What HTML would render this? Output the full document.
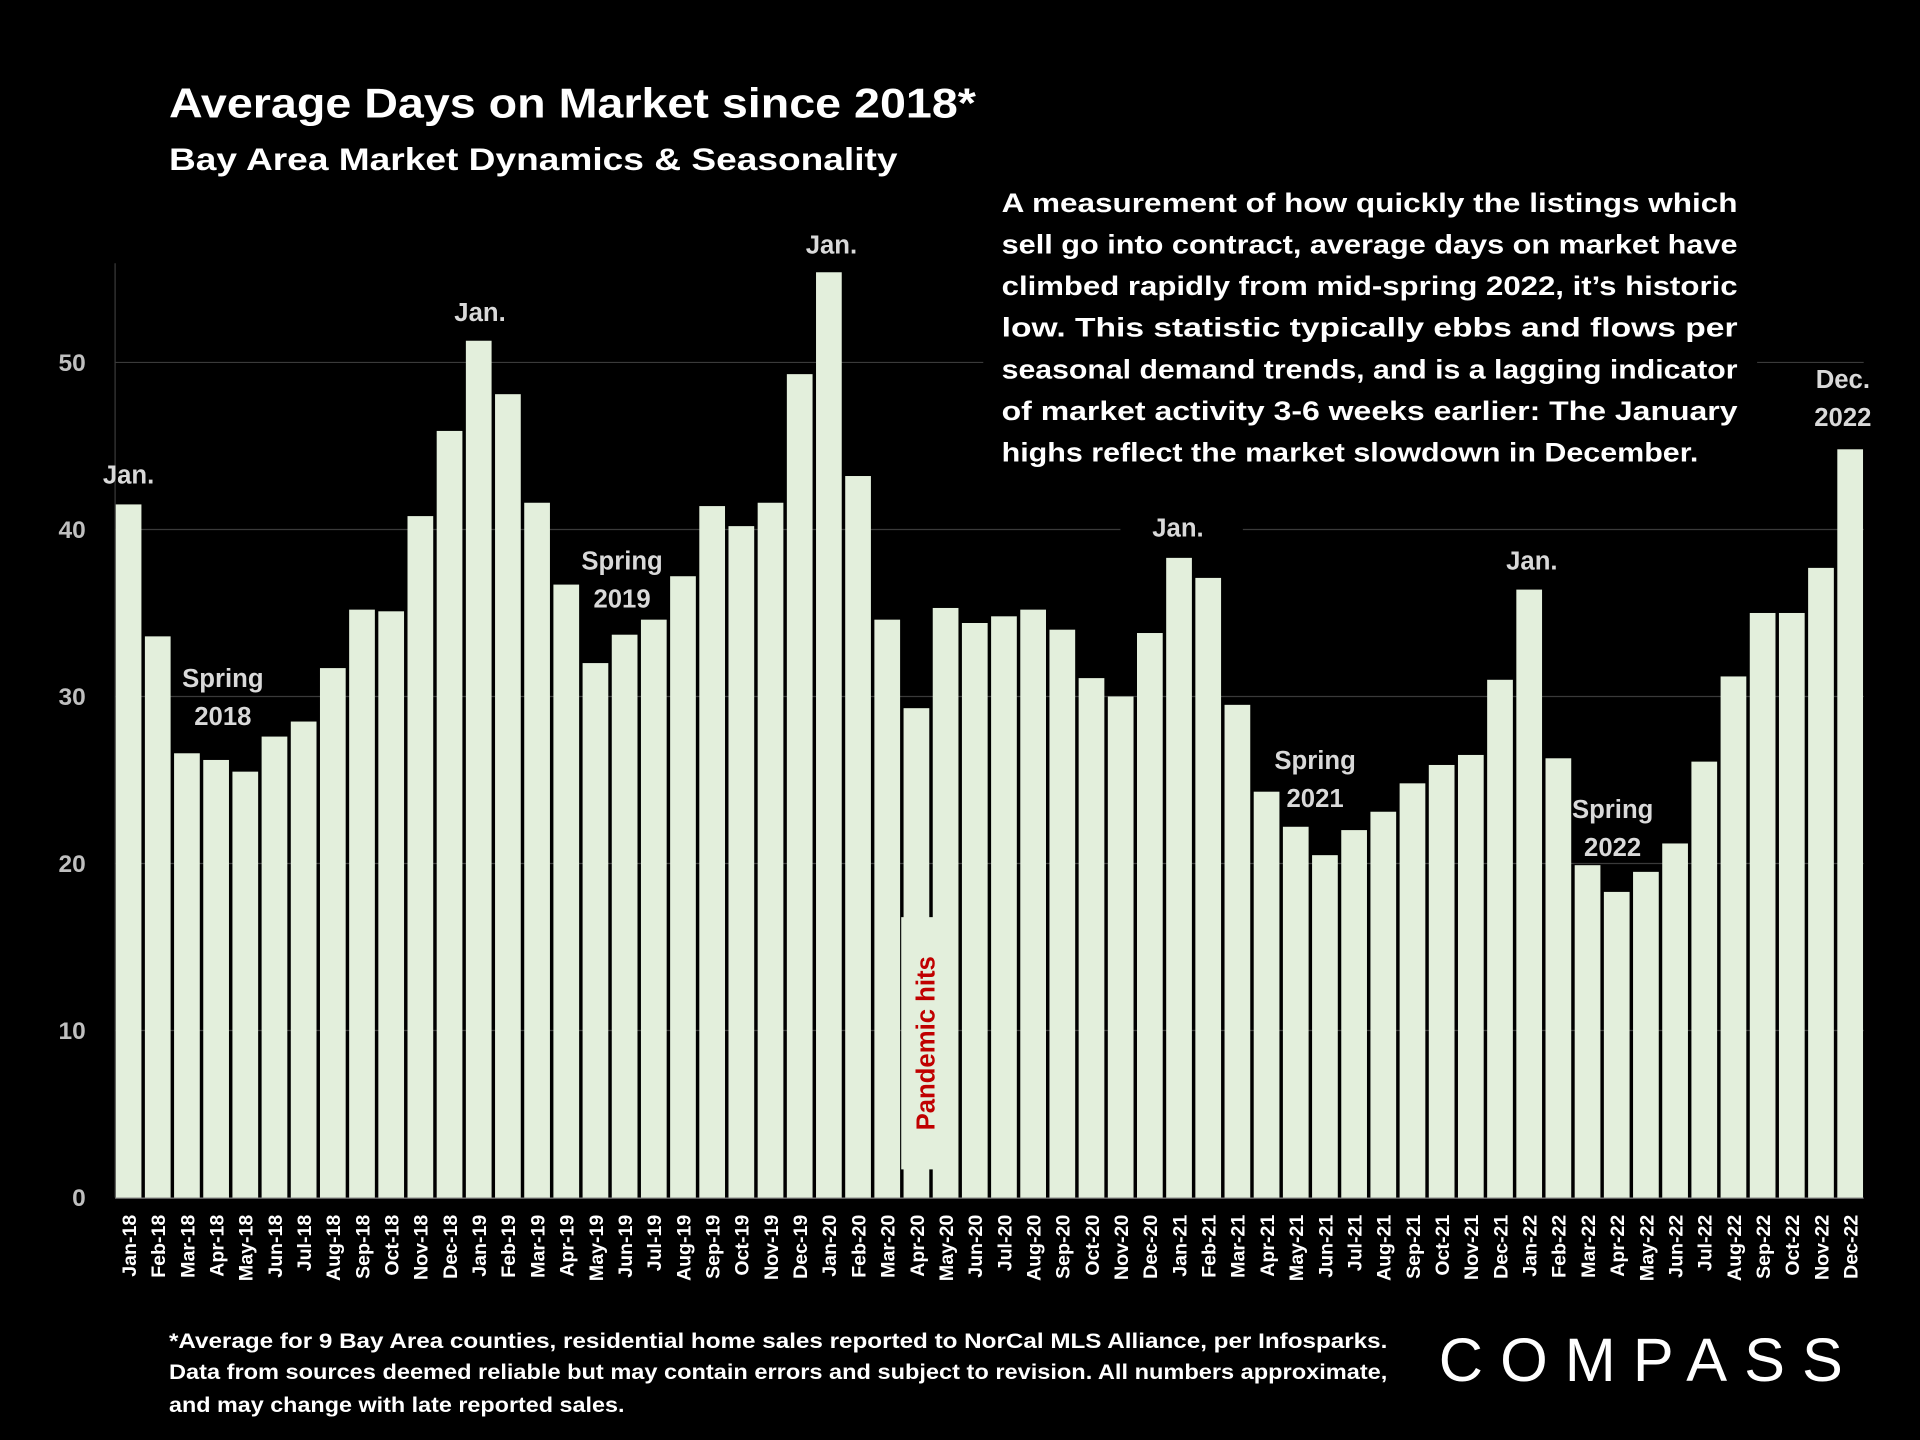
<!DOCTYPE html>
<html><head><meta charset="utf-8"><style>
html,body{margin:0;padding:0;background:#000;}
svg{display:block;}
text{font-family:"Liberation Sans",sans-serif;font-weight:bold;}
</style></head>
<body>
<svg id="chart" width="1920" height="1440" viewBox="0 0 1568 1176" xmlns="http://www.w3.org/2000/svg">
<rect x="0" y="0" width="1568" height="1176" fill="#000"/>
<text x="138" y="96" font-size="34" fill="#fff" textLength="659" lengthAdjust="spacingAndGlyphs">Average Days on Market since 2018*</text>
<text x="138" y="139" font-size="26" fill="#fff" textLength="595" lengthAdjust="spacingAndGlyphs">Bay Area Market Dynamics &amp; Seasonality</text>
<g id="grid"></g>
<g id="bars"></g>
<g id="xlabels"></g>
<g id="ylabels"></g>
<g id="overlay"></g>
<g fill="#fff" font-size="17.5">
<text x="138" y="1101" textLength="995" lengthAdjust="spacingAndGlyphs">*Average for 9 Bay Area counties, residential home sales reported to NorCal MLS Alliance, per Infosparks.</text>
<text x="138" y="1126" textLength="995" lengthAdjust="spacingAndGlyphs">Data from sources deemed reliable but may contain errors and subject to revision. All numbers approximate,</text>
<text x="138" y="1153" textLength="372" lengthAdjust="spacingAndGlyphs">and may change with late reported sales.</text>
</g>
<text x="1175" y="1128" font-size="50" fill="#fff" style="font-weight:normal" textLength="330" lengthAdjust="spacing">COMPASS</text>
</svg>
<script>
const categories=["Jan-18","Feb-18","Mar-18","Apr-18","May-18","Jun-18","Jul-18","Aug-18","Sep-18","Oct-18","Nov-18","Dec-18","Jan-19","Feb-19","Mar-19","Apr-19","May-19","Jun-19","Jul-19","Aug-19","Sep-19","Oct-19","Nov-19","Dec-19","Jan-20","Feb-20","Mar-20","Apr-20","May-20","Jun-20","Jul-20","Aug-20","Sep-20","Oct-20","Nov-20","Dec-20","Jan-21","Feb-21","Mar-21","Apr-21","May-21","Jun-21","Jul-21","Aug-21","Sep-21","Oct-21","Nov-21","Dec-21","Jan-22","Feb-22","Mar-22","Apr-22","May-22","Jun-22","Jul-22","Aug-22","Sep-22","Oct-22","Nov-22","Dec-22"];
const values=[41.5,33.6,26.6,26.2,25.5,27.6,28.5,31.7,35.2,35.1,40.8,45.9,51.3,48.1,41.6,36.7,32.0,33.7,34.6,37.2,41.4,40.2,41.6,49.3,55.4,43.2,34.6,29.3,35.3,34.4,34.8,35.2,34.0,31.1,30.0,33.8,38.3,37.1,29.5,24.3,22.2,20.5,22.0,23.1,24.8,25.9,26.5,31.0,36.4,26.3,19.9,18.3,19.5,21.2,26.1,31.2,35.0,35.0,37.7,44.8];
const yTicks=[0,10,20,30,40,50];
const NS="http://www.w3.org/2000/svg";
const y0=978,pxPerUnit=13.64,x0=105,step=23.83,bw=21;
const yScale=v=>y0-v*pxPerUnit;
const xScale=i=>x0+i*step;
function mk(tag,attrs,parent){const e=document.createElementNS(NS,tag);for(const k in attrs)e.setAttribute(k,attrs[k]);parent.appendChild(e);return e;}
const grid=document.getElementById('grid'),bars=document.getElementById('bars'),xl=document.getElementById('xlabels'),yl=document.getElementById('ylabels'),ov=document.getElementById('overlay');
yTicks.forEach(t=>{
  if(t>0){const l=mk('line',{x1:94,x2:1522,y1:yScale(t),y2:yScale(t),stroke:'#3a3a3a','stroke-width':1},grid);
  
  }
  const tx=mk('text',{x:70,y:yScale(t)+7,'text-anchor':'end','font-size':20,fill:'#bfbfbf'},yl);
  tx.textContent=t;
  
  
});
const ax=mk('line',{x1:94,x2:94,y1:215,y2:978,stroke:'#3a3a3a','stroke-width':1},grid);


const bx=mk('line',{x1:94,x2:1522,y1:978.5,y2:978.5,stroke:'#7f7f7f','stroke-width':1},grid);


values.forEach((v,i)=>{
  const r=mk('rect',{x:xScale(i)-bw/2,y:yScale(v),width:bw,height:v*pxPerUnit,fill:'#e3efdc'},bars);
  
  
  const cx=xScale(i)+6;
  const t=mk('text',{x:cx,y:992,transform:`rotate(-90 ${cx} 992)`,'text-anchor':'end','font-size':16,fill:'#fff'},xl);
  t.textContent=categories[i];
  
  
});
// pandemic box
const pb=mk('rect',{x:736,y:749,width:28,height:206,fill:'#e3efdc'},ov);


const pt=mk('text',{x:763,y:852,transform:'rotate(-90 763 852)','text-anchor':'middle','font-size':21,fill:'#c00000'},ov);
pt.textContent='Pandemic hits';


// description box
const db=mk('rect',{x:803,y:148,width:632,height:240,fill:'#000'},ov);


const desc=["A measurement of how quickly the listings which","sell go into contract, average days on market have","climbed rapidly from mid-spring 2022, it’s historic","low. This statistic typically ebbs and flows per","seasonal demand trends, and is a lagging indicator","of market activity 3-6 weeks earlier: The January","highs reflect the market slowdown in December."];
desc.forEach((s,i)=>{
  const t=mk('text',{x:818,y:173+i*34,'font-size':22,fill:'#fff',textLength:(i==6?569:601),lengthAdjust:'spacingAndGlyphs'},ov);
  t.textContent=s;
  
  
});
const jb=mk('rect',{x:915,y:415,width:100,height:30,fill:'#000'},ov);


const ann=[["Jan.",105,395],["Jan.",392,262],["Jan.",679,207],["Jan.",962,438],["Jan.",1251,465],["Spring",182,561],["2018",182,592],["Spring",508,465],["2019",508,496],["Spring",1074,628],["2021",1074,659],["Spring",1317,668],["2022",1317,699],["Dec.",1505,317],["2022",1505,348]];
ann.forEach(a=>{
  const t=mk('text',{x:a[1],y:a[2],'text-anchor':'middle','font-size':21,fill:'#d9d9d9'},ov);
  t.textContent=a[0];
  
  
});
</script>
</body></html>
